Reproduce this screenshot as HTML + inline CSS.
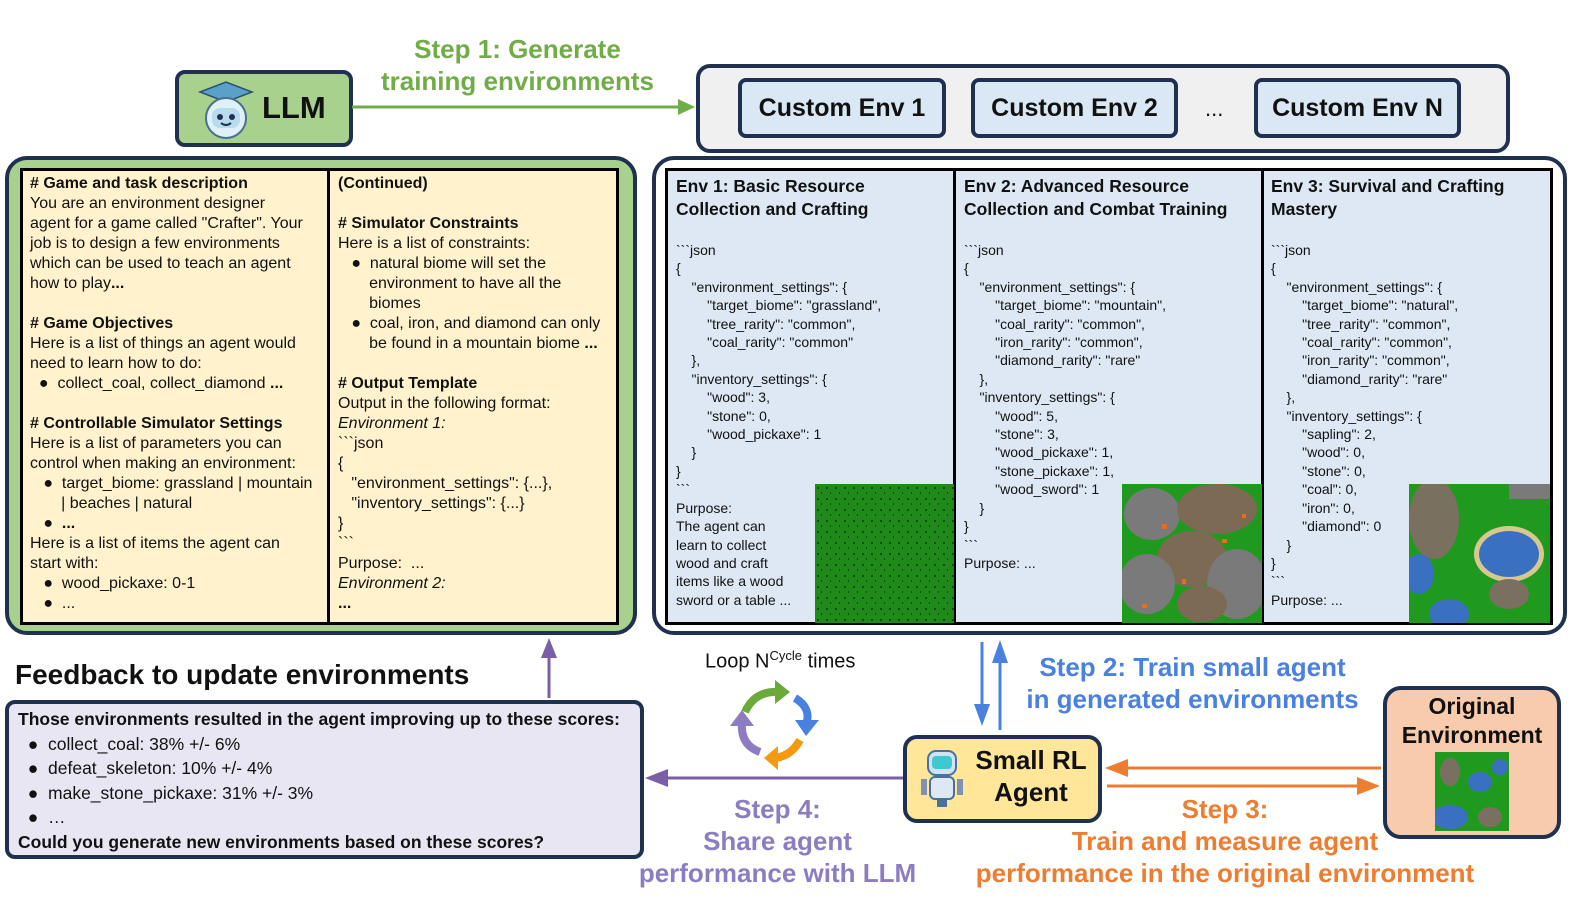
<!DOCTYPE html>
<html><head><meta charset="utf-8"><style>
*{margin:0;padding:0;box-sizing:border-box}
body{width:1578px;height:900px;background:#fff;position:relative;overflow:hidden;font-family:"Liberation Sans",Arial,sans-serif;color:#111}
.a{position:absolute}
.box{position:absolute;border:4px solid #1f3050;border-radius:14px}
.t{position:absolute;white-space:pre;font-size:16px;line-height:20px}
.code{position:absolute;white-space:pre;font-size:14px;line-height:18.4px}
.h{font-weight:bold}
.env{position:absolute;top:78px;height:60px;background:#dae8f5;border:4px solid #1f3050;border-radius:8px;font-weight:bold;font-size:25px;text-align:center;line-height:52px}
.lbl{position:absolute;font-weight:bold;font-size:26px;text-align:center;line-height:32px;white-space:pre}
</style></head><body>

<div class="box" style="left:175px;top:70px;width:178px;height:77px;background:#a9d18e;border-radius:10px"></div>
<svg class="a" style="left:196px;top:76px" width="60" height="64" viewBox="0 0 60 64">
<polygon points="4,16 30,6 56,16 30,26" fill="#5aa0c8" stroke="#2a5070" stroke-width="1.5"/>
<circle cx="30" cy="42" r="20" fill="#dff0f8" stroke="#4a7090" stroke-width="2"/>
<rect x="16" y="32" width="28" height="20" rx="8" fill="#b8dcee"/>
<circle cx="24" cy="41" r="3" fill="#1f3050"/><circle cx="36" cy="41" r="3" fill="#1f3050"/>
<path d="M25 47 Q30 51 35 47" stroke="#1f3050" stroke-width="2" fill="none"/>
</svg>
<div class="a h" style="left:262px;top:90px;font-size:31px">LLM</div>

<div class="lbl" style="left:360px;top:33px;width:315px;color:#70ad47">Step 1: Generate
training environments</div>
<svg class="a" style="left:350px;top:96px" width="350" height="22"><line x1="2" y1="11" x2="332" y2="11" stroke="#70ad47" stroke-width="3"/><polygon points="345,11 328,3 328,19" fill="#70ad47"/></svg>

<div class="box" style="left:696px;top:64px;width:814px;height:89px;background:#f0f0f0"></div>
<div class="env" style="left:738px;width:208px">Custom Env 1</div>
<div class="env" style="left:971px;width:207px">Custom Env 2</div>
<div class="a" style="left:1205px;top:96px;font-size:22px">...</div>
<div class="env" style="left:1254px;width:207px">Custom Env N</div>

<div class="box" style="left:5px;top:156px;width:632px;height:479px;background:#a9d18e;border-radius:22px"></div>
<div class="a" style="left:20px;top:168px;width:599px;height:457px;background:#fff2cc;border:3px solid #000"></div>
<div class="a" style="left:327px;top:168px;width:3px;height:457px;background:#000"></div>
<div class="t" style="left:30px;top:174px"><b># Game and task description</b>
You are an environment designer
agent for a game called "Crafter". Your
job is to design a few environments
which can be used to teach an agent
how to play<b>...</b>

<b># Game Objectives</b>
Here is a list of things an agent would
need to learn how to do:
  ●  collect_coal, collect_diamond <b>...</b>

<b># Controllable Simulator Settings</b>
Here is a list of parameters you can
control when making an environment:
   ●  target_biome: grassland | mountain
       | beaches | natural
   ●  <b>...</b>
Here is a list of items the agent can
start with:
   ●  wood_pickaxe: 0-1
   ●  ...</div>
<div class="t" style="left:338px;top:174px"><b>(Continued)</b>

<b># Simulator Constraints</b>
Here is a list of constraints:
   ●  natural biome will set the
       environment to have all the
       biomes
   ●  coal, iron, and diamond can only
       be found in a mountain biome <b>...</b>

<b># Output Template</b>
Output in the following format:
<i>Environment 1:</i>
&#96;&#96;&#96;json
{
   "environment_settings": {...},
   "inventory_settings": {...}
}
&#96;&#96;&#96;
Purpose:  ...
<i>Environment 2:</i>
<b>...</b></div>

<div class="box" style="left:652px;top:156px;width:915px;height:479px;background:#fff;border-radius:22px"></div>
<div class="a" style="left:665px;top:168px;width:888px;height:457px;background:#dde8f4;border:3px solid #000"></div>
<div class="a" style="left:953px;top:168px;width:3px;height:457px;background:#000"></div>
<div class="a" style="left:1261px;top:168px;width:3px;height:457px;background:#000"></div>

<div class="a h" style="left:676px;top:175px;font-size:17.5px;line-height:23px">Env 1: Basic Resource<br>Collection and Crafting</div>
<div class="a h" style="left:964px;top:175px;font-size:17.5px;line-height:23px">Env 2: Advanced Resource<br>Collection and Combat Training</div>
<div class="a h" style="left:1271px;top:175px;font-size:17.5px;line-height:23px">Env 3: Survival and Crafting<br>Mastery</div>

<div class="code" style="left:676px;top:241px">&#96;&#96;&#96;json
{
    "environment_settings": {
        "target_biome": "grassland",
        "tree_rarity": "common",
        "coal_rarity": "common"
    },
    "inventory_settings": {
        "wood": 3,
        "stone": 0,
        "wood_pickaxe": 1
    }
}
&#96;&#96;&#96;
Purpose:
The agent can
learn to collect
wood and craft
items like a wood
sword or a table ...</div>
<div class="code" style="left:964px;top:241px">&#96;&#96;&#96;json
{
    "environment_settings": {
        "target_biome": "mountain",
        "coal_rarity": "common",
        "iron_rarity": "common",
        "diamond_rarity": "rare"
    },
    "inventory_settings": {
        "wood": 5,
        "stone": 3,
        "wood_pickaxe": 1,
        "stone_pickaxe": 1,
        "wood_sword": 1
    }
}
&#96;&#96;&#96;
Purpose: ...</div>
<div class="code" style="left:1271px;top:241px">&#96;&#96;&#96;json
{
    "environment_settings": {
        "target_biome": "natural",
        "tree_rarity": "common",
        "coal_rarity": "common",
        "iron_rarity": "common",
        "diamond_rarity": "rare"
    },
    "inventory_settings": {
        "sapling": 2,
        "wood": 0,
        "stone": 0,
        "coal": 0,
        "iron": 0,
        "diamond": 0
    }
}
&#96;&#96;&#96;
Purpose: ...</div>

<svg class="a" style="left:815px;top:484px" width="139" height="139"><defs><pattern id="g1" width="9" height="11" patternUnits="userSpaceOnUse"><rect width="9" height="11" fill="#1f8a1a"/><rect x="2" y="3" width="2" height="2" fill="#0d4d0d"/><rect x="6" y="8" width="1" height="2" fill="#0d4d0d"/></pattern></defs><rect width="139" height="139" fill="url(#g1)"/></svg>
<svg class="a" style="left:1122px;top:484px" width="140" height="139"><rect width="140" height="139" fill="#1f9a1f"/>
<ellipse cx="30" cy="30" rx="28" ry="26" fill="#7a7a7a"/><ellipse cx="95" cy="25" rx="40" ry="25" fill="#7d6a55"/><ellipse cx="70" cy="75" rx="35" ry="28" fill="#7d6a55"/><ellipse cx="25" cy="100" rx="28" ry="30" fill="#7a7a7a"/><ellipse cx="115" cy="100" rx="30" ry="35" fill="#7a7a7a"/><ellipse cx="80" cy="120" rx="25" ry="18" fill="#7d6a55"/>
<rect x="40" y="40" width="5" height="5" fill="#e07020"/><rect x="100" y="55" width="5" height="4" fill="#e07020"/><rect x="60" y="95" width="4" height="5" fill="#e07020"/><rect x="20" y="120" width="5" height="4" fill="#e07020"/><rect x="120" y="30" width="4" height="4" fill="#e07020"/></svg>
<svg class="a" style="left:1409px;top:484px" width="141" height="139"><rect width="141" height="139" fill="#1f9a1f"/>
<ellipse cx="25" cy="35" rx="25" ry="40" fill="#7a7060"/><ellipse cx="100" cy="70" rx="35" ry="28" fill="#d8c890"/><ellipse cx="100" cy="70" rx="30" ry="23" fill="#3a70c0"/><ellipse cx="10" cy="90" rx="15" ry="20" fill="#3a70c0"/><ellipse cx="40" cy="130" rx="20" ry="15" fill="#3a70c0"/><ellipse cx="100" cy="110" rx="20" ry="15" fill="#7a7060"/><rect x="100" y="0" width="41" height="15" fill="#7a7a7a"/></svg>

<div class="a h" style="left:15px;top:659px;font-size:28px">Feedback to update environments</div>
<div class="box" style="left:5px;top:700px;width:639px;height:159px;background:#e8e6f3;border-radius:10px"></div>
<div class="a" style="left:18px;top:707px;font-size:17.5px;line-height:24.6px;white-space:pre"><b>Those environments resulted in the agent improving up to these scores:</b>
  ●  collect_coal: 38% +/- 6%
  ●  defeat_skeleton: 10% +/- 4%
  ●  make_stone_pickaxe: 31% +/- 3%
  ●  …
<b>Could you generate new environments based on these scores?</b></div>

<svg class="a" style="left:0;top:0" width="1578" height="900">
<line x1="549" y1="698" x2="549" y2="655" stroke="#7b5ea7" stroke-width="3"/><polygon points="549,638 541,658 557,658" fill="#7b5ea7"/>
<line x1="903" y1="778" x2="665" y2="778" stroke="#7b5ea7" stroke-width="3"/><polygon points="645,778 668,769 668,787" fill="#7b5ea7"/>
<line x1="982" y1="642" x2="982" y2="708" stroke="#4a80e0" stroke-width="3"/><polygon points="982,726 974,704 990,704" fill="#4a80e0"/>
<line x1="1000" y1="730" x2="1000" y2="660" stroke="#4a80e0" stroke-width="3"/><polygon points="1000,640 992,663 1008,663" fill="#4a80e0"/>
<line x1="1381" y1="768" x2="1125" y2="768" stroke="#ed7d31" stroke-width="3"/><polygon points="1105,768 1128,759 1128,777" fill="#ed7d31"/>
<line x1="1107" y1="786" x2="1360" y2="786" stroke="#ed7d31" stroke-width="3"/><polygon points="1380,786 1357,777 1357,795" fill="#ed7d31"/>
<path d="M745 712 Q755 690 780 692" stroke="#6aaa3a" stroke-width="8" fill="none"/><polygon points="790,692 775,680 775,704" fill="#6aaa3a"/>
<path d="M795 698 Q812 708 806 725" stroke="#4a80e0" stroke-width="8" fill="none"/><polygon points="806,736 795,720 819,720" fill="#4a80e0"/>
<path d="M800 740 Q790 758 772 758" stroke="#f59a10" stroke-width="8" fill="none"/><polygon points="764,758 778,746 778,770" fill="#f59a10"/>
<path d="M760 752 Q740 745 742 722" stroke="#8e7cc3" stroke-width="8" fill="none"/><polygon points="742,710 730,726 754,726" fill="#8e7cc3"/>
</svg>
<div class="a" style="left:705px;top:648px;font-size:20px">Loop N<sup style="font-size:13px">Cycle</sup> times</div>

<div class="lbl" style="left:1010px;top:651px;width:365px;color:#4a80e0">Step 2: Train small agent
in generated environments</div>
<div class="lbl" style="left:625px;top:793px;width:305px;color:#8e7cc3">Step 4:
Share agent
performance with LLM</div>
<div class="lbl" style="left:960px;top:793px;width:530px;color:#ed7d31">Step 3:
Train and measure agent
performance in the original environment</div>

<div class="box" style="left:903px;top:735px;width:199px;height:88px;background:#ffe699"></div>
<svg class="a" style="left:918px;top:745px" width="48" height="64"><rect x="10" y="6" width="28" height="24" rx="8" fill="#cfe3f5" stroke="#4a70a0" stroke-width="2"/><rect x="14" y="11" width="20" height="13" rx="4" fill="#40c8d0"/><rect x="12" y="32" width="24" height="22" rx="5" fill="#dde8f4" stroke="#4a70a0" stroke-width="2"/><rect x="3" y="34" width="6" height="16" fill="#8090b0"/><rect x="39" y="34" width="6" height="16" fill="#8090b0"/><rect x="19" y="54" width="10" height="8" fill="#4a70a0"/></svg>
<div class="a h" style="left:966px;top:744px;width:130px;text-align:center;font-size:26px;line-height:32px">Small RL<br>Agent</div>

<div class="box" style="left:1383px;top:686px;width:178px;height:153px;background:#f8cbad;border-radius:18px"></div>
<div class="a h" style="left:1383px;top:692px;width:178px;text-align:center;font-size:23px;line-height:29px">Original<br>Environment</div>
<svg class="a" style="left:1435px;top:752px" width="74" height="79"><rect width="74" height="79" fill="#1f9a1f"/><ellipse cx="15" cy="20" rx="10" ry="14" fill="#7a7060"/><ellipse cx="45" cy="30" rx="12" ry="10" fill="#3a70c0"/><ellipse cx="15" cy="65" rx="18" ry="12" fill="#3a70c0"/><ellipse cx="55" cy="65" rx="12" ry="10" fill="#7a7060"/><ellipse cx="65" cy="15" rx="8" ry="8" fill="#3a70c0"/></svg>

</body></html>
